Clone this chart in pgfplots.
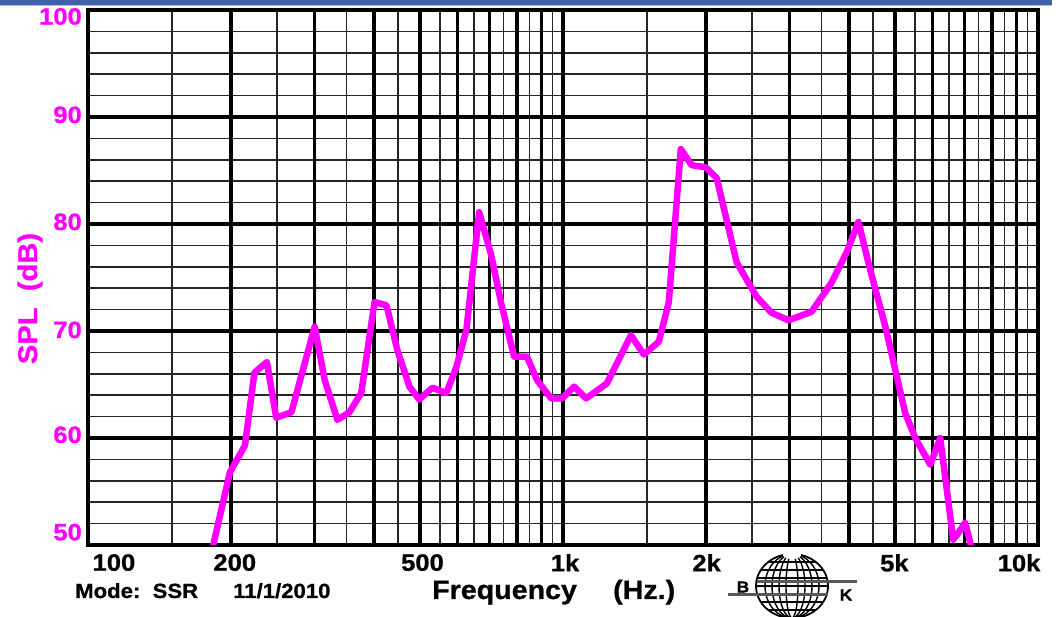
\documentclass[border=0pt]{standalone}
\usepackage{pgfplots}
\pgfplotsset{compat=1.18}
\usepackage{fontspec}
\setmainfont{Liberation Sans}[FakeStretch=1.08, BoldFeatures={FakeBold=0.8}]
\definecolor{mag}{RGB}{255,0,255}
\definecolor{band}{RGB}{64,96,168}
\begin{document}
\begin{tikzpicture}
\path[use as bounding box] (0pt,0pt) rectangle (1059pt,617pt);
\fill[band] (0pt,612pt) rectangle (1052pt,617pt);
\draw[black!25, line width=1pt] (0pt,611.5pt) -- (1052pt,611.5pt);
% thin grid
\begin{axis}[
  at={(88pt,72pt)}, anchor=south west,
  scale only axis, width=950pt, height=535pt,
  xmode=log, xmin=100, xmax=10000, ymin=50, ymax=100,
  major tick length=0pt,
  xtick={150,250,350,450,550,650,750,850,950,1500,2500,3500,4500,5500,6500,7500,8500,9500},
  ytick={52,54,56,58,62,64,66,68,72,74,76,78,82,84,86,88,92,94,96,98},
  xticklabels={}, yticklabels={},
  grid=major, major grid style={line width=1.7pt, black!85},
  axis line style={draw=none},
]
\addplot[draw=none] coordinates {(1000,70)};
\end{axis}
% thick grid
\begin{axis}[
  at={(88pt,72pt)}, anchor=south west,
  scale only axis, width=950pt, height=535pt,
  xmode=log, xmin=100, xmax=10000, ymin=50, ymax=100,
  major tick length=0pt,
  xtick={200,300,400,500,600,700,800,900,1000,2000,3000,4000,5000,6000,7000,8000,9000},
  ytick={60,70,80,90},
  xticklabels={}, yticklabels={},
  grid=major, major grid style={line width=3.4pt, black},
  axis line style={draw=none},
]
\addplot[draw=none] coordinates {(1000,70)};
\end{axis}
% labels, frame and curve
\begin{axis}[
  at={(88pt,72pt)}, anchor=south west,
  scale only axis, width=950pt, height=535pt,
  xmode=log, xmin=100, xmax=10000, ymin=50, ymax=100,
  major tick length=0pt,
  xtick={113.4,203.7,506,1010,2006,4984,9123},
  xticklabels={100,200,500,1k,2k,5k,10k},
  ytick={51.2,60.3,70.1,80.2,90.2,99.4},
  yticklabels={50,60,70,80,90,100},
  axis line style={line width=4.5pt, black},
  xticklabel style={font=\fontsize{23.7}{28}\selectfont\bfseries, anchor=north, inner sep=0pt, yshift=-9pt},
  yticklabel style={font=\fontsize{23.7}{28}\selectfont\bfseries, text=mag, anchor=east, inner sep=0pt, xshift=-6pt},
  /pgf/number format/assume math mode=true,
]
\addplot[mag, line width=6.5pt, line join=round] coordinates {
(182,49.3) (199,56.8) (214,59.3) (224,66.1) (238,67.1) (249,61.9) (268,62.4)
(300,70.4) (315,65.4) (335,61.7) (355,62.4) (376,64.2) (401,72.7) (425,72.4)
(448,68.2) (475,64.8) (498,63.6) (531,64.7) (568,64.2) (596,66.6) (626,70.1)
(666,81.1) (706,77.1) (741,72.6) (789,67.6) (840,67.6) (882,65.4) (944,63.7)
(995,63.7) (1055,64.8) (1118,63.7) (1237,65.1) (1390,69.6) (1480,67.8)
(1591,69.0) (1670,72.7) (1770,87.0) (1866,85.5) (1997,85.3) (2106,84.3)
(2321,76.4) (2556,73.2) (2749,71.7) (2984,71.0) (3336,71.8) (3674,74.5)
(3951,77.3) (4187,80.2) (4416,76.0) (4771,70.4) (5255,62.3) (5515,60.0)
(5931,57.5) (6225,60.0) (6629,50.5) (6791,51.1) (7025,52.1) (7267,49.5)
};
\end{axis}
% axis titles
\node[rotate=90, anchor=base, inner sep=0pt, text=mag, font=\fontsize{27}{30}\selectfont\bfseries] at (37pt,318.5pt) {SPL\ \ (dB)};
\node[anchor=base west, inner sep=0pt, font=\fontsize{26.5}{30}\selectfont\bfseries] at (432pt,18pt) {Frequency};
\node[anchor=base west, inner sep=0pt, font=\fontsize{26.5}{30}\selectfont\bfseries] at (613pt,18pt) {(Hz.)};
\node[anchor=base west, inner sep=0pt, font=\fontsize{20.5}{24}\selectfont\bfseries] at (75pt,19pt) {Mode:\ \ SSR};
\node[anchor=base west, inner sep=0pt, font=\fontsize{20.5}{24}\selectfont\bfseries] at (233pt,19pt) {11/1/2010};
% logo
\begin{scope}[x=1pt,y=1pt]
\begin{scope}
\clip (792,31) ellipse (36 and 32);
\foreach \r in {6,13,20,27} { \draw[line width=1.4pt] (792,31) ellipse ({\r} and 32); }
\foreach \dy in {-24,-16,-8,0,8,16,24} { \draw[line width=1.4pt] (756,{31+\dy}) -- (828,{31+\dy}); }
\end{scope}
\draw[line width=1.8pt] (792,31) ellipse (36 and 32);
\fill[white] (792,62) ellipse (9 and 4);
\draw[line width=3pt, black!65] (757,35) -- (857,35);
\draw[line width=3pt, black!65] (728,22) -- (828,22);
\node[inner sep=0pt, font=\fontsize{16}{16}\selectfont\bfseries] at (743,30) {B};
\node[inner sep=0pt, font=\fontsize{16}{16}\selectfont\bfseries] at (846,22) {K};
\end{scope}
\end{tikzpicture}
\end{document}
